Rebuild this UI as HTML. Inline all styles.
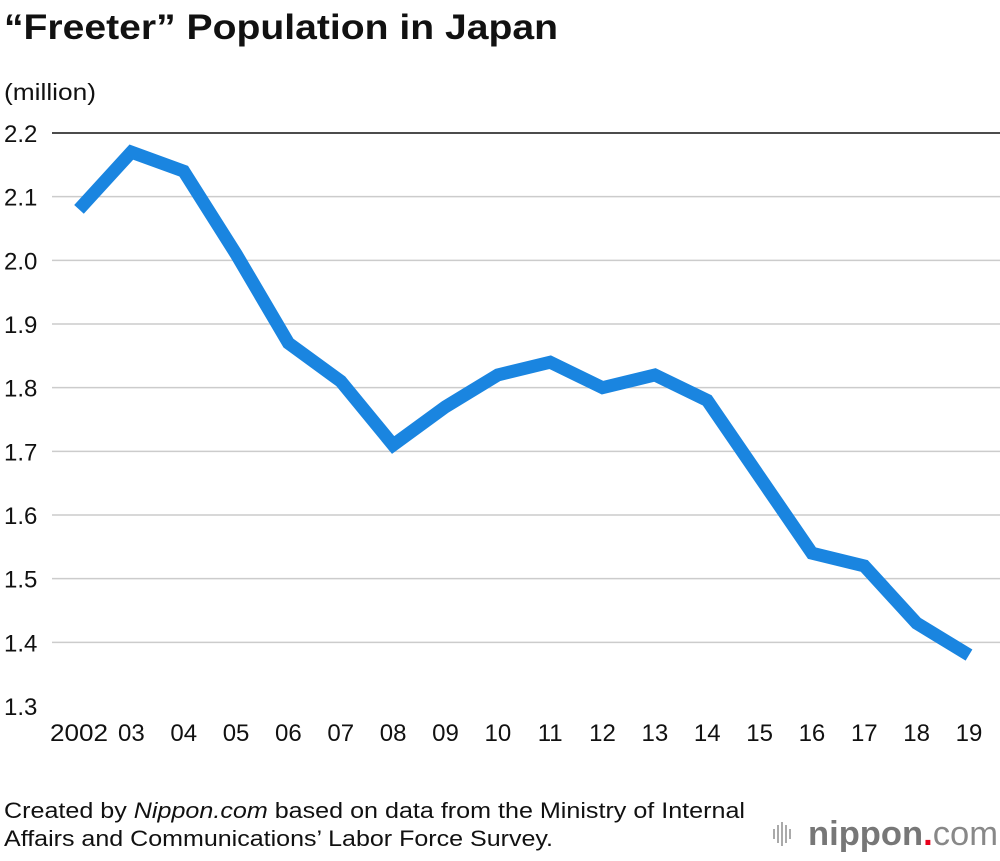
<!DOCTYPE html>
<html><head><meta charset="utf-8"><style>
body{margin:0;background:#fff;width:1000px;height:856px;overflow:hidden;font-family:"Liberation Sans",sans-serif;}
</style></head><body>
<svg width="1000" height="856" xmlns="http://www.w3.org/2000/svg">
<text x="4" y="39" font-size="35" font-weight="bold" fill="#111" textLength="554" lengthAdjust="spacingAndGlyphs">“Freeter” Population in Japan</text>
<text x="4" y="100" font-size="23" fill="#111" textLength="92" lengthAdjust="spacingAndGlyphs">(million)</text>
<g id="grid"></g><g id="yt"></g><g id="xt"></g>
<polyline id="line" fill="none" stroke="#1a85e0" stroke-width="13" stroke-linejoin="miter" stroke-linecap="butt"/>
<text x="4" y="818" font-size="22" fill="#111" textLength="741" lengthAdjust="spacingAndGlyphs">Created by <tspan font-style="italic">Nippon.com</tspan> based on data from the Ministry of Internal</text>
<text x="4" y="846" font-size="22" fill="#111" textLength="549" lengthAdjust="spacingAndGlyphs">Affairs and Communications’ Labor Force Survey.</text>
<g fill="#aaa">
<rect x="773" y="829" width="2" height="10"/><rect x="777" y="825" width="2" height="18"/><rect x="781" y="822" width="2" height="24"/><rect x="785" y="825" width="2" height="18"/><rect x="789" y="829" width="2" height="10"/>
<text x="808" y="845" font-size="34" fill="#777" font-weight="bold" textLength="190" lengthAdjust="spacingAndGlyphs">nippon<tspan fill="#e8001c">.</tspan><tspan font-weight="normal" fill="#888">com</tspan></text>
</g>
</svg>
<script>
const years=["2002","03","04","05","06","07","08","09","10","11","12","13","14","15","16","17","18","19"];
const values=[2.08,2.17,2.14,2.01,1.87,1.81,1.71,1.77,1.82,1.84,1.80,1.82,1.78,1.66,1.54,1.52,1.43,1.38];
const yTicks=[1.3,1.4,1.5,1.6,1.7,1.8,1.9,2.0,2.1,2.2];
const NS="http://www.w3.org/2000/svg";
const y=v=>706-(v-1.3)/0.9*573;
const x=i=>79+i*(890/17);
const grid=document.getElementById('grid'),yt=document.getElementById('yt'),xt=document.getElementById('xt');
yTicks.forEach(t=>{
 if(t>1.35){const l=document.createElementNS(NS,'line');
 l.setAttribute('x1',52);l.setAttribute('x2',1000);l.setAttribute('y1',y(t));l.setAttribute('y2',y(t));
 l.setAttribute('stroke',t>2.15?'#111':'#ccc');l.setAttribute('stroke-width',1.5);
 
 
 grid.appendChild(l);}
 const tx=document.createElementNS(NS,'text');
 tx.setAttribute('x',4);tx.setAttribute('y',y(t)+9);tx.setAttribute('font-size',24);tx.setAttribute('fill','#111');
 tx.textContent=t.toFixed(1);
 
 
 yt.appendChild(tx);
});
years.forEach((yr,i)=>{
 const tx=document.createElementNS(NS,'text');
 tx.setAttribute('x',x(i));tx.setAttribute('y',741);tx.setAttribute('font-size',24);tx.setAttribute('fill','#111');tx.setAttribute('text-anchor','middle');
 if(yr.length===4){tx.setAttribute('textLength',58);tx.setAttribute('lengthAdjust','spacingAndGlyphs');}
 tx.textContent=yr;
 
 
 xt.appendChild(tx);
});
document.getElementById('line').setAttribute('points',values.map((v,i)=>x(i)+','+y(v)).join(' '));
</script>
</body></html>
